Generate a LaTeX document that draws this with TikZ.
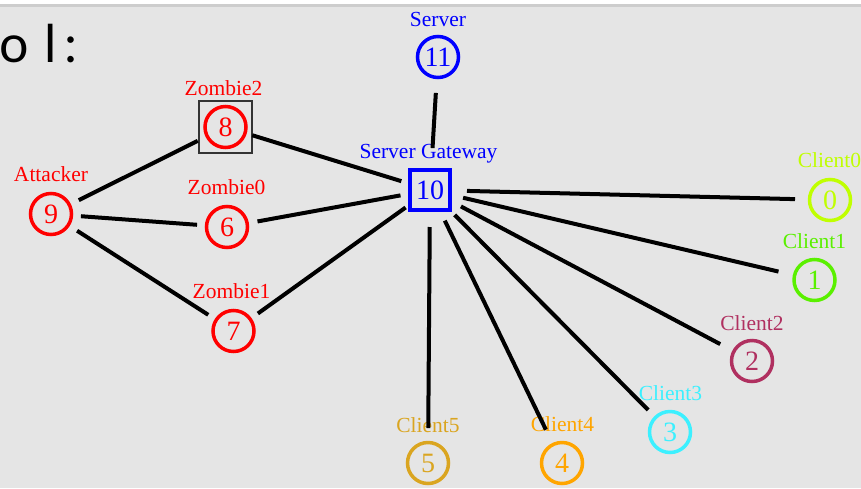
\documentclass[tikz,border=0pt]{standalone}
\usepackage{fontspec}
\setmainfont{Liberation Serif}
\newfontfamily\titlefont{Lato}
\definecolor{bg}{RGB}{229,229,229}
\definecolor{topline}{RGB}{205,205,205}
\definecolor{cred}{RGB}{255,0,0}
\definecolor{cblue}{RGB}{0,0,255}
\definecolor{czero}{RGB}{192,255,0}
\definecolor{cone}{RGB}{90,240,0}
\definecolor{ctwo}{RGB}{176,48,96}
\definecolor{cthree}{RGB}{60,240,255}
\definecolor{cfour}{RGB}{255,165,0}
\definecolor{cfive}{RGB}{218,165,32}
\begin{document}
\begin{tikzpicture}[x=1pt,y=-1pt,
  nd/.style={circle, draw=#1, text=#1, line width=3.5pt, minimum size=41pt, inner sep=0pt,
    font=\fontsize{28}{28}\selectfont},
  sq/.style={rectangle, draw=#1, text=#1, line width=4pt, minimum size=40pt, inner sep=0pt,
    font=\fontsize{28}{28}\selectfont},
  lbl/.style={anchor=base, inner sep=0pt, text=#1, font=\fontsize{21.5}{21.5}\selectfont},
  link/.style={line width=4pt, draw=black}]
\useasboundingbox (0,0) rectangle (861,488);
\fill[bg] (0,0) rectangle (861,488);
\fill[white] (0,0) rectangle (861,4);
\fill[topline] (0,4) rectangle (861,7);
\node[anchor=base west, inner sep=0pt, font=\titlefont\fontsize{52}{52}\selectfont] (title) at (-1,62) {o\hspace{3pt} l\hspace{7pt}:};
% nodes
\node[nd=cblue] (n11) at (438,57) {11};
\node[sq=cblue] (n10) at (430,190) {10};
\node[nd=cred] (n8) at (225.5,127) {8};
\node[draw=black!80, line width=1.2pt, minimum width=53pt, minimum height=52pt, inner sep=0pt] (box8) at (225.5,127) {};
\node[nd=cred] (n9) at (51,214) {9};
\node[nd=cred] (n6) at (227,227) {6};
\node[nd=cred] (n7) at (233.5,331) {7};
\node[nd=czero] (n0) at (830,200) {0};
\node[nd=cone] (n1) at (814.5,280) {1};
\node[nd=ctwo] (n2) at (752,361) {2};
\node[nd=cthree] (n3) at (670,432) {3};
\node[nd=cfour] (n4) at (562,463) {4};
\node[nd=cfive] (n5) at (428,463) {5};
% labels
\node[lbl=cblue] (l11) at (438,26) {Server};
\node[lbl=cblue] (l10) at (428.5,158) {Server Gateway};
\node[lbl=cred] (l8) at (223.5,95) {Zombie2};
\node[lbl=cred] (l9) at (51,181) {Attacker};
\node[lbl=cred] (l6) at (226.5,194) {Zombie0};
\node[lbl=cred] (l7) at (231.5,298) {Zombie1};
\node[lbl=czero] (l0) at (829.5,167) {Client0};
\node[lbl=cone] (l1) at (814.5,248) {Client1};
\node[lbl=ctwo] (l2) at (752,330) {Client2};
\node[lbl=cthree] (l3) at (670.5,400) {Client3};
\node[lbl=cfour] (l4) at (562.5,431) {Client4};
\node[lbl=cfive] (l5) at (428,432) {Client5};
% links
\draw[link, shorten <=36pt, shorten >=42pt] (n11.center) -- (n10.center);
\draw[link, shorten <=31pt, shorten >=31pt] (n9.center) -- (n8.center);
\draw[link, shorten <=30pt, shorten >=30pt] (n9.center) -- (n6.center);
\draw[link, shorten <=31pt, shorten >=30pt] (n9.center) -- (n7.center);
\draw[link, shorten <=28pt, shorten >=30pt] (n8.center) -- (n10.center);
\draw[link, shorten <=31pt, shorten >=30pt] (n6.center) -- (n10.center);
\draw[link, shorten <=30pt, shorten >=30pt] (n7.center) -- (n10.center);
\draw[link, shorten <=37pt, shorten >=35pt] (n10.center) -- (n0.center);
\draw[link, shorten <=34pt, shorten >=37pt] (n10.center) -- (n1.center);
\draw[link, shorten <=35pt, shorten >=36pt] (n10.center) -- (n2.center);
\draw[link, shorten <=35pt, shorten >=31pt] (n10.center) -- (n3.center);
\draw[link, shorten <=34pt, shorten >=37pt] (n10.center) -- (n4.center);
\draw[link, shorten <=37pt, shorten >=35pt] (n10.center) -- (n5.center);
\end{tikzpicture}
\end{document}
